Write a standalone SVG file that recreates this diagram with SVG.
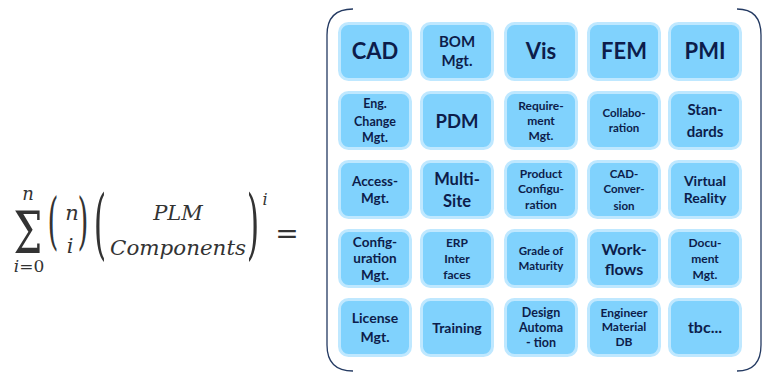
<svg xmlns="http://www.w3.org/2000/svg" width="768" height="380" viewBox="0 0 768 380">
<style>
.box{fill:#80d2fd;stroke:#bfe8ff;stroke-width:3}
.t{font-family:Lato,"Liberation Sans",sans-serif;font-weight:bold;fill:#0d1d4b;text-anchor:middle}
.m{font-family:"DejaVu Serif","Liberation Serif",serif;fill:#333;font-style:italic}
.mu{font-family:"DejaVu Serif","Liberation Serif",serif;fill:#333}
.br{fill:none;stroke:#243a62;stroke-width:1.3}
</style>
<rect width="768" height="380" fill="#fff"/>
<g id="formula">
<text class="mu" font-size="48" transform="translate(28,253) scale(0.85,1.2)" text-anchor="middle">Σ</text>
<text class="m" x="28" y="200" font-size="18" text-anchor="middle">n</text>
<text class="m" x="29" y="272" font-size="17" text-anchor="middle">i<tspan class="mu" font-style="normal">=0</tspan></text>
<text class="mu" font-size="40" transform="translate(53,242) scale(0.7,1.55)" text-anchor="middle">(</text>
<text class="m" x="72" y="220" font-size="21" text-anchor="middle">n</text>
<text class="m" x="70" y="253" font-size="21" text-anchor="middle">i</text>
<text class="mu" font-size="40" transform="translate(83,242) scale(0.7,1.55)" text-anchor="middle">)</text>
<text class="mu" font-size="40" transform="translate(100,249.5) scale(0.8,1.9)" text-anchor="middle">(</text>
<text class="m" x="178" y="220" font-size="21" text-anchor="middle">PLM</text>
<text class="m" x="110" y="255" font-size="21" textLength="136" lengthAdjust="spacingAndGlyphs">Components</text>
<text class="mu" font-size="40" transform="translate(253,249.5) scale(0.8,1.9)" text-anchor="middle">)</text>
<text class="m" x="265" y="205" font-size="16" text-anchor="middle">i</text>
<text class="mu" x="287" y="243" font-size="28" text-anchor="middle">=</text>
</g>
<g id="bracket">
<path class="br" d="M353,9 Q327,9 327,35 V345 Q327,371 353,371"/>
<path class="br" d="M737,9 Q761,9 761,35 V345 Q761,371 737,371"/>
</g>
<g id="n-cad"><rect class="box" x="339.5" y="23.5" width="71" height="56" rx="9"/><text class="t" x="375" y="59" font-size="22">CAD</text></g>
<g id="n-bom"><rect class="box" x="421.5" y="23.5" width="71" height="56" rx="9"/><text class="t" x="457" y="47" font-size="15">BOM</text><text class="t" x="457" y="66" font-size="15">Mgt.</text></g>
<g id="n-vis"><rect class="box" x="505.5" y="23.5" width="71" height="56" rx="9"/><text class="t" x="541" y="59" font-size="22">Vis</text></g>
<g id="n-fem"><rect class="box" x="588.5" y="23.5" width="71" height="56" rx="9"/><text class="t" x="624" y="59" font-size="22">FEM</text></g>
<g id="n-pmi"><rect class="box" x="669.5" y="23.5" width="71" height="56" rx="9"/><text class="t" x="705" y="59" font-size="22">PMI</text></g>

<g id="n-ecm"><rect class="box" x="339.5" y="92.5" width="71" height="56" rx="9"/><text class="t" x="375" y="108" font-size="12.5">Eng.</text><text class="t" x="375" y="126" font-size="12.5">Change</text><text class="t" x="375" y="142" font-size="12.5">Mgt.</text></g>
<g id="n-pdm"><rect class="box" x="421.5" y="92.5" width="71" height="56" rx="9"/><text class="t" x="457" y="128" font-size="18.5">PDM</text></g>
<g id="n-req"><rect class="box" x="505.5" y="92.5" width="71" height="56" rx="9"/><text class="t" x="541" y="110" font-size="12">Require-</text><text class="t" x="541" y="125" font-size="12">ment</text><text class="t" x="541" y="140" font-size="12">Mgt.</text></g>
<g id="n-col"><rect class="box" x="588.5" y="92.5" width="71" height="56" rx="9"/><text class="t" x="624" y="117" font-size="11.5">Collabo-</text><text class="t" x="624" y="132" font-size="11.5">ration</text></g>
<g id="n-std"><rect class="box" x="669.5" y="92.5" width="71" height="56" rx="9"/><text class="t" x="705" y="115" font-size="15">Stan-</text><text class="t" x="705" y="137" font-size="15">dards</text></g>

<g id="n-acc"><rect class="box" x="339.5" y="161.5" width="71" height="56" rx="9"/><text class="t" x="375" y="186" font-size="13.5">Access-</text><text class="t" x="375" y="203" font-size="13.5">Mgt.</text></g>
<g id="n-ms"><rect class="box" x="421.5" y="161.5" width="71" height="56" rx="9"/><text class="t" x="457" y="185" font-size="16.5">Multi-</text><text class="t" x="457" y="207" font-size="16.5">Site</text></g>
<g id="n-pc"><rect class="box" x="505.5" y="161.5" width="71" height="56" rx="9"/><text class="t" x="541" y="178" font-size="12">Product</text><text class="t" x="541" y="193" font-size="12">Configu-</text><text class="t" x="541" y="209" font-size="12">ration</text></g>
<g id="n-cc"><rect class="box" x="588.5" y="161.5" width="71" height="56" rx="9"/><text class="t" x="624" y="178" font-size="11.5">CAD-</text><text class="t" x="624" y="193" font-size="11.5">Conver-</text><text class="t" x="624" y="210" font-size="11.5">sion</text></g>
<g id="n-vr"><rect class="box" x="669.5" y="161.5" width="71" height="56" rx="9"/><text class="t" x="705" y="186" font-size="14">Virtual</text><text class="t" x="705" y="203" font-size="14">Reality</text></g>

<g id="n-cfg"><rect class="box" x="339.5" y="230.5" width="71" height="56" rx="9"/><text class="t" x="375" y="247" font-size="13.5">Config-</text><text class="t" x="375" y="263" font-size="13.5">uration</text><text class="t" x="375" y="280" font-size="13.5">Mgt.</text></g>
<g id="n-erp"><rect class="box" x="421.5" y="230.5" width="71" height="56" rx="9"/><text class="t" x="457" y="247" font-size="12">ERP</text><text class="t" x="457" y="263" font-size="12">Inter</text><text class="t" x="457" y="279" font-size="12">faces</text></g>
<g id="n-gom"><rect class="box" x="505.5" y="230.5" width="71" height="56" rx="9"/><text class="t" x="541" y="255" font-size="11.5">Grade of</text><text class="t" x="541" y="270" font-size="11.5">Maturity</text></g>
<g id="n-wf"><rect class="box" x="588.5" y="230.5" width="71" height="56" rx="9"/><text class="t" x="624" y="255" font-size="16">Work-</text><text class="t" x="624" y="275" font-size="16">flows</text></g>
<g id="n-doc"><rect class="box" x="669.5" y="230.5" width="71" height="56" rx="9"/><text class="t" x="705" y="247" font-size="12">Docu-</text><text class="t" x="705" y="263" font-size="12">ment</text><text class="t" x="705" y="279" font-size="12">Mgt.</text></g>

<g id="n-lic"><rect class="box" x="339.5" y="299.5" width="71" height="56" rx="9"/><text class="t" x="375" y="323" font-size="14">License</text><text class="t" x="375" y="342" font-size="14">Mgt.</text></g>
<g id="n-trn"><rect class="box" x="421.5" y="299.5" width="71" height="56" rx="9"/><text class="t" x="457" y="333" font-size="14">Training</text></g>
<g id="n-da"><rect class="box" x="505.5" y="299.5" width="71" height="56" rx="9"/><text class="t" x="541" y="317" font-size="12.5">Design</text><text class="t" x="541" y="332" font-size="12.5">Automa</text><text class="t" x="541" y="347" font-size="12.5">- tion</text></g>
<g id="n-emd"><rect class="box" x="588.5" y="299.5" width="71" height="56" rx="9"/><text class="t" x="624" y="317" font-size="12">Engineer</text><text class="t" x="624" y="331" font-size="12">Material</text><text class="t" x="624" y="346" font-size="12">DB</text></g>
<g id="n-tbc"><rect class="box" x="669.5" y="299.5" width="71" height="56" rx="9"/><text class="t" x="705" y="333" font-size="16">tbc...</text></g>
</svg>
